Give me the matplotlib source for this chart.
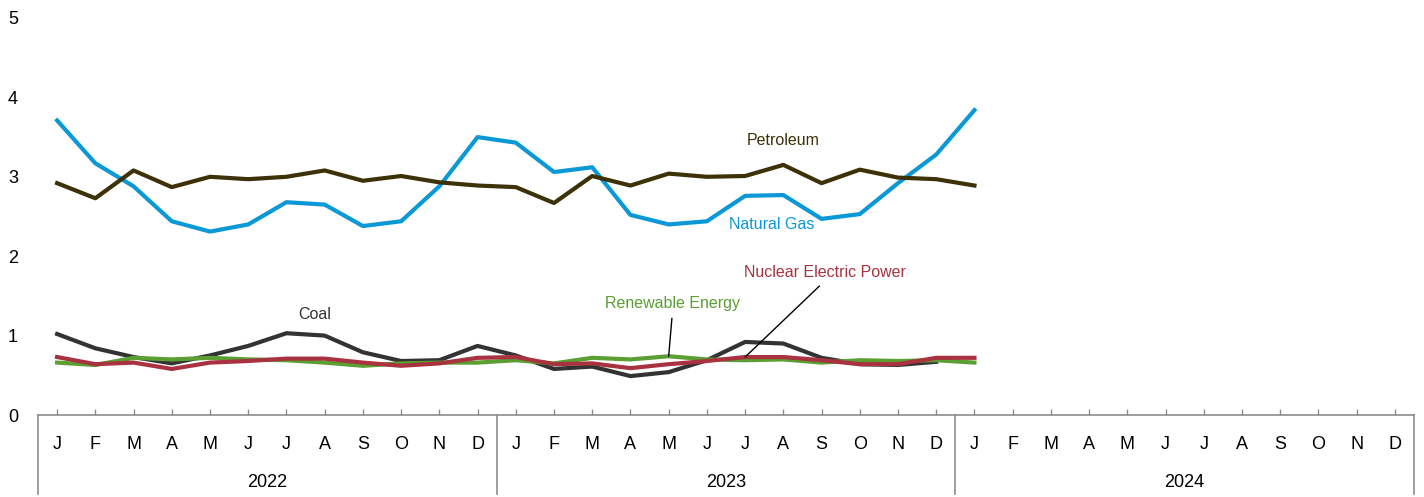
import matplotlib
matplotlib.use('Agg')
import matplotlib.pyplot as plt
import matplotlib.transforms as mtransforms
import numpy as np

plt.rcParams['font.family'] = ['Liberation Sans', 'DejaVu Sans']

MONTH_LABELS = ['J', 'F', 'M', 'A', 'M', 'J', 'J', 'A', 'S', 'O', 'N', 'D'] * 3
YEARS = ['2022', '2023', '2024']

natural_gas = [3.71, 3.17, 2.88, 2.44, 2.31, 2.40, 2.68, 2.65, 2.38, 2.44, 2.88, 3.50,
               3.43, 3.06, 3.12, 2.52, 2.40, 2.44, 2.76, 2.77, 2.47, 2.53, 2.92, 3.28,
               3.84]
petroleum = [2.92, 2.73, 3.08, 2.87, 3.00, 2.97, 3.00, 3.08, 2.95, 3.01, 2.93, 2.89,
             2.87, 2.67, 3.01, 2.89, 3.04, 3.00, 3.01, 3.15, 2.92, 3.09, 2.99, 2.97,
             2.89]
coal = [1.02, 0.84, 0.73, 0.65, 0.75, 0.87, 1.03, 1.00, 0.79, 0.68, 0.69, 0.87,
        0.75, 0.58, 0.61, 0.49, 0.54, 0.69, 0.92, 0.90, 0.72, 0.64, 0.63, 0.67]
renewable = [0.66, 0.63, 0.72, 0.70, 0.72, 0.70, 0.69, 0.66, 0.62, 0.65, 0.66, 0.66,
             0.69, 0.65, 0.72, 0.70, 0.74, 0.70, 0.69, 0.70, 0.66, 0.69, 0.68, 0.69,
             0.66]
nuclear = [0.73, 0.64, 0.66, 0.58, 0.66, 0.68, 0.71, 0.71, 0.66, 0.62, 0.65, 0.72,
           0.73, 0.64, 0.65, 0.59, 0.64, 0.68, 0.73, 0.73, 0.69, 0.64, 0.64, 0.72,
           0.72]

C_GAS = '#0a98d6'
C_PET = '#3d3108'
C_COAL = '#333333'
C_REN = '#5b9e32'
C_NUC = '#a8323f'
AXIS_GRAY = '#8c8c8c'
LW = 3.0

fig = plt.figure(figsize=(14.24, 4.97), dpi=100)
ax = fig.add_axes([38 / 1424, 82 / 497, 1376 / 1424, 397 / 497])

ax.plot(np.arange(len(coal)), coal, color=C_COAL, lw=LW)
ax.plot(np.arange(len(renewable)), renewable, color=C_REN, lw=LW)
ax.plot(np.arange(len(nuclear)), nuclear, color=C_NUC, lw=LW)
ax.plot(np.arange(len(natural_gas)), natural_gas, color=C_GAS, lw=LW)
ax.plot(np.arange(len(petroleum)), petroleum, color=C_PET, lw=LW)

# series labels, two with leader lines
lab_size = 11.5
ax.text(19.0, 3.46, 'Petroleum', color=C_PET, fontsize=lab_size, ha='center', va='center')
ax.text(18.7, 2.40, 'Natural Gas', color=C_GAS, fontsize=lab_size, ha='center', va='center')
ax.text(6.75, 1.26, 'Coal', color=C_COAL, fontsize=lab_size, ha='center', va='center')
ax.annotate('Nuclear Electric Power', xy=(18, nuclear[18]), xytext=(20.1, 1.79),
            color=C_NUC, fontsize=lab_size, ha='center', va='center',
            arrowprops=dict(arrowstyle='-', color='black', lw=1, relpos=(0.5, 0),
                            shrinkA=3, shrinkB=0))
ax.annotate('Renewable Energy', xy=(16, renewable[16]), xytext=(16.1, 1.40),
            color=C_REN, fontsize=lab_size, ha='center', va='center',
            arrowprops=dict(arrowstyle='-', color='black', lw=1, relpos=(0.5, 0),
                            shrinkA=3, shrinkB=0))

ax.set_xlim(-0.5, 35.5)
ax.set_ylim(0, 5)
ax.set_yticks(range(6))
ax.tick_params(axis='y', length=0, pad=18, labelsize=13)
for lbl in ax.get_yticklabels():
    lbl.set_horizontalalignment('center')

ax.set_xticks(np.arange(36))
ax.set_xticklabels(MONTH_LABELS)
ax.tick_params(axis='x', direction='in', length=4, width=1, color=AXIS_GRAY,
               pad=15, labelsize=13)

for side in ['left', 'top', 'right']:
    ax.spines[side].set_visible(False)
ax.spines['bottom'].set_color(AXIS_GRAY)
ax.spines['bottom'].set_linewidth(1.2)

# year separators and year labels under the month row
trans = mtransforms.blended_transform_factory(ax.transData, ax.transAxes)
for b in [-0.5, 11.5, 23.5, 35.5]:
    ax.plot([b, b], [0, -0.2], color=AXIS_GRAY, lw=1.2, transform=trans, clip_on=False)
for i, yr in enumerate(YEARS):
    ax.text(5.5 + 12 * i, -0.17, yr, transform=trans, ha='center', va='center',
            fontsize=13)

fig.savefig('out.png', dpi=100)
